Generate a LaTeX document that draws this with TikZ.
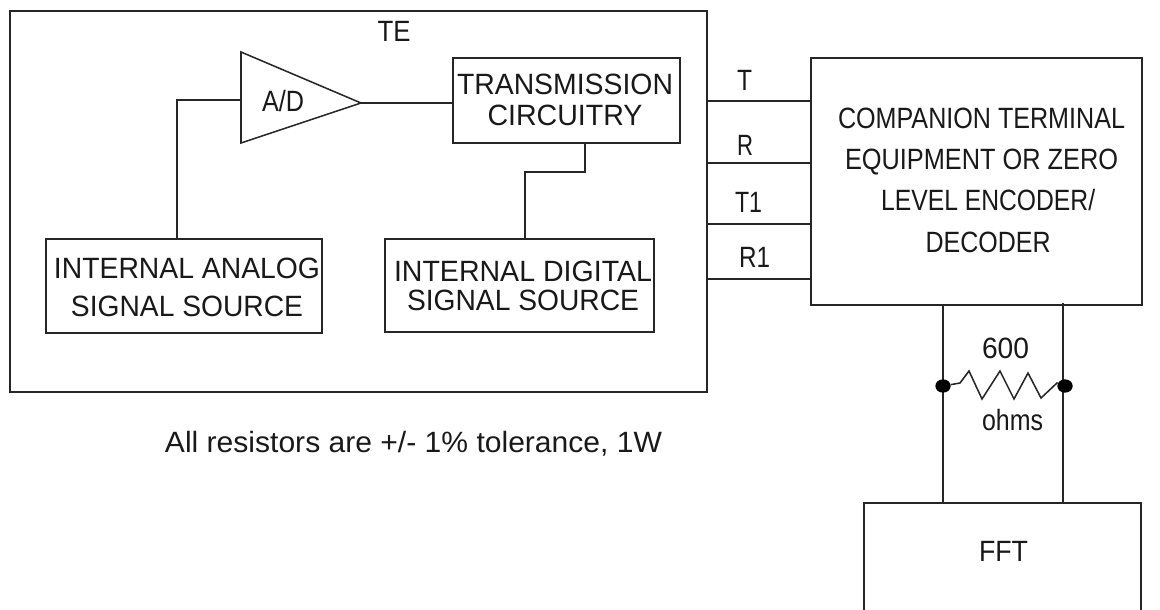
\documentclass[tikz,border=0pt]{standalone}
\usepackage{fontspec}
\setmainfont{Liberation Sans}
\newcommand{\tw}[2]{\resizebox{\dimexpr #1pt*3/4\relax}{\height}{#2}}
\tikzset{
 x=0.75pt,y=-0.75pt,
 box/.style={draw=black!85,line width=1.15pt,inner sep=0pt,outer sep=0pt},
 wire/.style={draw=black!85,line width=1.15pt},
 lbl/.style={inner sep=0pt,align=center,text=black!90,font=\fontsize{22}{#1}\selectfont},
 lbl/.default=24,
 dot/.style={ellipse,fill=black,inner sep=0pt,minimum width=11.5pt,minimum height=10pt}
}
\usetikzlibrary{shapes.geometric}
\begin{document}
\begin{tikzpicture}
\useasboundingbox (0,0) rectangle (1160,610);
\fill[white] (0,0) rectangle (1160,610);
% boxes
\node[box,minimum width=697*0.75pt,minimum height=381*0.75pt] (te) at (358.5,201.5) {};
\node[box,minimum width=227*0.75pt,minimum height=85*0.75pt] (tc) at (566.5,100.5) {};
\node[box,minimum width=276*0.75pt,minimum height=94*0.75pt] (ia) at (184,286) {};
\node[box,minimum width=269*0.75pt,minimum height=93*0.75pt] (id) at (519.5,285.5) {};
\node[box,minimum width=331*0.75pt,minimum height=247*0.75pt] (ct) at (976.5,181.5) {};
% amplifier
\coordinate (ampT) at (241,52);
\coordinate (ampB) at (241,143);
\coordinate (ampR) at (361,103);
\draw[wire,line join=miter] (ampT) -- (ampR) -- (ampB) -- cycle;
% FFT box, cut by the page
\coordinate (fftTL) at (864,503);
\coordinate (fftTR) at (1141,503);
\coordinate (fftBL) at (864,610);
\coordinate (fftBR) at (1141,610);
\draw[wire] (fftBL) -- (fftTL) -- (fftTR) -- (fftBR);
% texts
\node[lbl] (teL) at (394,31.5) {\tw{33}{TE}};
\node[lbl] (adL) at (283,101) {\tw{42}{A/D}};
\node[lbl=23.5] (tcL) at (565,100) {\tw{216}{TRANSMISSION}\\\tw{155}{CIRCUITRY}};
\node[lbl=24] (iaL) at (187,287.5) {\tw{266}{INTERNAL ANALOG}\\[4pt]\tw{232}{SIGNAL SOURCE}};
\node[lbl=22] (idL) at (523,286) {\tw{258}{INTERNAL DIGITAL}\\\tw{232}{SIGNAL SOURCE}};
\node[lbl=31] (ctL) at (981.5,180) {\tw{287}{COMPANION TERMINAL}\\\tw{273}{EQUIPMENT OR ZERO}\\\hspace*{10pt}\tw{214}{LEVEL ENCODER/}\\\hspace*{10pt}\tw{125}{DECODER}};
\node[lbl] (fftL) at (1003.5,551.5) {\tw{49}{FFT}};
\node[lbl] (tL) at (744.5,80.5) {\tw{15}{T}};
\node[lbl] (rL) at (745,145.5) {\tw{16}{R}};
\node[lbl] (t1L) at (748.5,202) {\tw{27}{T1}};
\node[lbl] (r1L) at (754.5,257) {\tw{31}{R1}};
\node[lbl] (rv) at (1005.5,348) {\tw{47}{600}};
\node[lbl] (ro) at (1012.5,420) {\tw{61}{ohms}};
\node[lbl,anchor=base] (note) at (413.5,452) {\tw{497}{All resistors are +/- 1\% tolerance, 1W}};
% connectors
\coordinate (iaTop) at (177,239);
\coordinate (iaBend) at (177,100);
\coordinate (ampL) at (241,100);
\draw[wire] (iaTop) -- (iaBend) -- (ampL);
\coordinate (tcIn) at (453,103);
\draw[wire] (ampR) -- (tcIn);
\coordinate (idTop) at (525,239);
\coordinate (b1) at (525,172);
\coordinate (b2) at (585,172);
\coordinate (tcBot) at (585,143);
\draw[wire] (idTop) -- (b1) -- (b2) -- (tcBot);
\foreach \n/\y in {a/101,b/163,c/224,d/279}{
  \coordinate (l\n) at (707,\y);
  \coordinate (r\n) at (811,\y);
  \draw[wire] (l\n) -- (r\n);
}
\coordinate (wA1) at (943,305);
\coordinate (wA2) at (943,503);
\coordinate (wB1) at (1063,303);
\coordinate (wB2) at (1063,503);
\draw[wire] (wA1) -- (wA2);
\draw[wire] (wB1) -- (wB2);
\node[dot] (d1) at (943,386) {};
\node[dot] (d2) at (1065,386) {};
\draw[wire] (d1) -- (960,383) -- (969,371) -- (982,399) -- (1000,371) -- (1014,399) -- (1028,373) -- (1041,398) -- (1057,383) -- (d2);
\end{tikzpicture}
\end{document}
